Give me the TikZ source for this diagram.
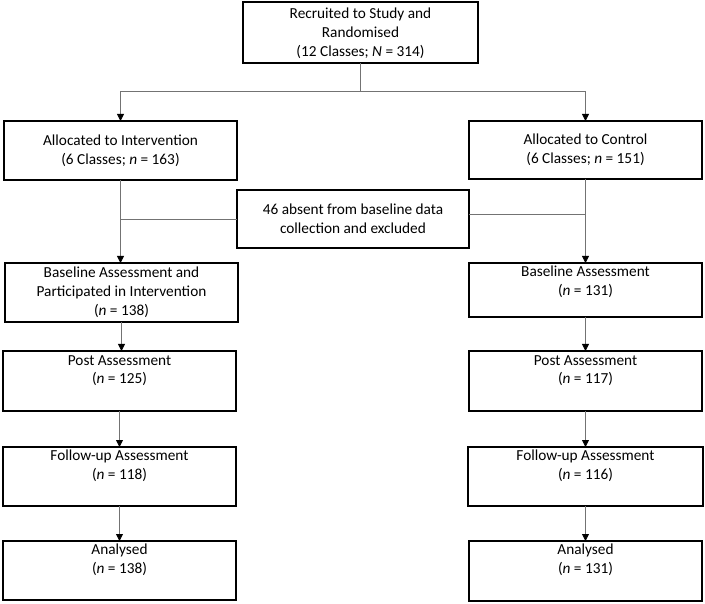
\documentclass[tikz,border=0pt]{standalone}
\usepackage{fontspec}
\setmainfont{Carlito}
\usetikzlibrary{arrows.meta}
\begin{document}
\begin{tikzpicture}[x=1pt,y=-1pt,
  box/.style={draw=black, line width=1.1pt, inner sep=0pt, outer sep=0pt, anchor=north west},
  txt/.style={align=center, inner sep=0pt, font=\fontsize{15.3}{18.8}\selectfont},
  conn/.style={draw=black!55, line width=0.8pt},
  arr/.style={conn, -{Triangle[length=7pt,width=7pt,color=black]}}]
\useasboundingbox (0,0) rectangle (705,604);

% boxes
\node[box, minimum width=235pt, minimum height=61pt] (rec) at (243,2) {};
\node[box, minimum width=233pt, minimum height=59pt] (ai) at (4,121) {};
\node[box, minimum width=233pt, minimum height=58pt] (ac) at (469,121) {};
\node[box, minimum width=232pt, minimum height=58pt] (ex) at (237,190) {};
\node[box, minimum width=233pt, minimum height=59pt] (bi) at (5,263) {};
\node[box, minimum width=233pt, minimum height=54pt] (bc) at (469,263) {};
\node[box, minimum width=233pt, minimum height=60pt] (pi) at (3,351) {};
\node[box, minimum width=233pt, minimum height=60pt] (pc) at (469,351) {};
\node[box, minimum width=233pt, minimum height=59pt] (fi) at (3,447) {};
\node[box, minimum width=235pt, minimum height=59pt] (fc) at (468,447) {};
\node[box, minimum width=233pt, minimum height=59pt] (ani) at (3,541) {};
\node[box, minimum width=233pt, minimum height=60pt] (anc) at (469,541) {};

% texts
\node[txt] (rect) at ([yshift=-1pt]rec.center) {Recruited to Study and\\Randomised\\(12 Classes; \textit{N} = 314)};
\node[txt] (ait) at (ai.center) {Allocated to Intervention\\(6 Classes; \textit{n} = 163)};
\node[txt] (act) at (ac.center) {Allocated to Control\\(6 Classes; \textit{n} = 151)};
\node[txt] (ext) at (ex.center) {46 absent from baseline data\\collection and excluded};
\node[txt] (bit) at (bi.center) {Baseline Assessment and\\Participated in Intervention\\(\textit{n} = 138)};
\node[txt, anchor=north] (bct) at ([yshift=-3pt]bc.north) {Baseline Assessment\\(\textit{n} = 131)};
\node[txt, anchor=north] (pit) at ([yshift=-4pt]pi.north) {Post Assessment\\(\textit{n} = 125)};
\node[txt, anchor=north] (pct) at ([yshift=-4pt]pc.north) {Post Assessment\\(\textit{n} = 117)};
\node[txt, anchor=north] (fit) at ([yshift=-3pt]fi.north) {Follow-up Assessment\\(\textit{n} = 118)};
\node[txt, anchor=north] (fct) at ([yshift=-3pt]fc.north) {Follow-up Assessment\\(\textit{n} = 116)};
\node[txt, anchor=north] (anit) at ([yshift=-3pt]ani.north) {Analysed\\(\textit{n} = 138)};
\node[txt, anchor=north] (anct) at ([yshift=-3pt]anc.north) {Analysed\\(\textit{n} = 131)};

% connectors
\coordinate (split) at (361,91);
\draw[conn] (rec.south) -- (rec.south |- split);
\draw[arr] (split) -| (ai.north);
\draw[arr] (split) -| (ac.north);

\draw[arr] (ai.south) -- (ai.south |- bi.north);
\draw[arr] (ac.south) -- (ac.south |- bc.north);
\draw[conn] (ex.west) -- (ex.west -| ai.south);
\draw[conn] ([yshift=5pt]ex.east) -- ([yshift=5pt]ex.east -| ac.south);

\draw[arr] (bi.south) -- (bi.south |- pi.north);
\draw[arr] (pi.south) -- (pi.south |- fi.north);
\draw[arr] (fi.south) -- (fi.south |- ani.north);

\draw[arr] (bc.south) -- (bc.south |- pc.north);
\draw[arr] (pc.south) -- (pc.south |- fc.north);
\draw[arr] (fc.south) -- (fc.south |- anc.north);
\end{tikzpicture}
\end{document}
